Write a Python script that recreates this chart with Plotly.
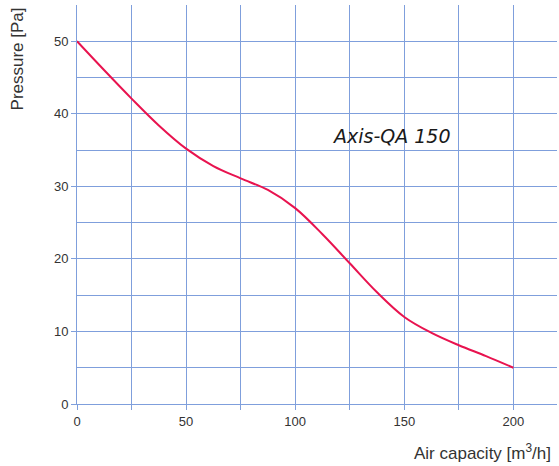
import plotly.graph_objects as go

airflow = [0, 12.5, 25, 37.5, 50, 62.5, 75, 87.5, 100, 112.5, 125, 137.5, 150, 162.5, 175, 187.5, 200]
pressure = [50, 46.0, 42.1, 38.4, 35.2, 32.8, 31.1, 29.5, 27.0, 23.4, 19.4, 15.4, 12.0, 9.8, 8.1, 6.6, 5.0]
x_ticks = [0, 50, 100, 150, 200]
y_ticks = [0, 10, 20, 30, 40, 50]
label = "Axis-QA 150"

grid = "#7f9fdc"
fig = go.Figure()
fig.add_trace(go.Scatter(x=airflow, y=pressure, mode="lines",
                         line=dict(color="#e8134f", width=2, shape="spline", smoothing=1.0),
                         showlegend=False, hoverinfo="skip"))
fig.add_annotation(x=144, y=36.9, text=label, showarrow=False,
                   font=dict(family="DejaVu Sans", size=19, color="#1a1a1a", style="italic"),
                   xanchor="center", yanchor="middle")
fig.add_annotation(xref="paper", yref="paper", x=-0.123, y=1.0, text="Pressure [Pa]",
                   textangle=-90, showarrow=False, xanchor="center", yanchor="top",
                   font=dict(size=17, color="#333333"))
fig.add_annotation(xref="paper", yref="paper", x=0.992, y=-0.12, text="Air capacity [m<sup>3</sup>/h]",
                   showarrow=False, xanchor="right", yanchor="middle",
                   font=dict(size=17, color="#333333"))
fig.update_layout(
    width=559, height=466,
    margin=dict(l=77, r=2, t=5, b=62),
    plot_bgcolor="white", paper_bgcolor="white",
    font=dict(family="Liberation Sans, Arial", color="#333333", size=13),
)
fig.update_xaxes(range=[0, 220], tickvals=x_ticks, automargin=False,
                 showgrid=True, gridcolor=grid, gridwidth=1,
                 showline=True, linecolor=grid, linewidth=1,
                 ticks="outside", tickcolor=grid, ticklen=5,
                 zeroline=False,
                 minor=dict(dtick=25, showgrid=True, gridcolor=grid, ticks="outside", ticklen=5, tickcolor=grid))
fig.update_yaxes(range=[0, 55], tickvals=y_ticks, automargin=False,
                 showgrid=True, gridcolor=grid, gridwidth=1,
                 showline=True, linecolor=grid, linewidth=1,
                 ticks="outside", tickcolor=grid, ticklen=5,
                 zeroline=False,
                 minor=dict(dtick=5, showgrid=True, gridcolor=grid))
fig.write_html("out.html", config={"displayModeBar": False},
               post_script="document.body.style.margin='0';document.body.style.overflow='hidden';")
